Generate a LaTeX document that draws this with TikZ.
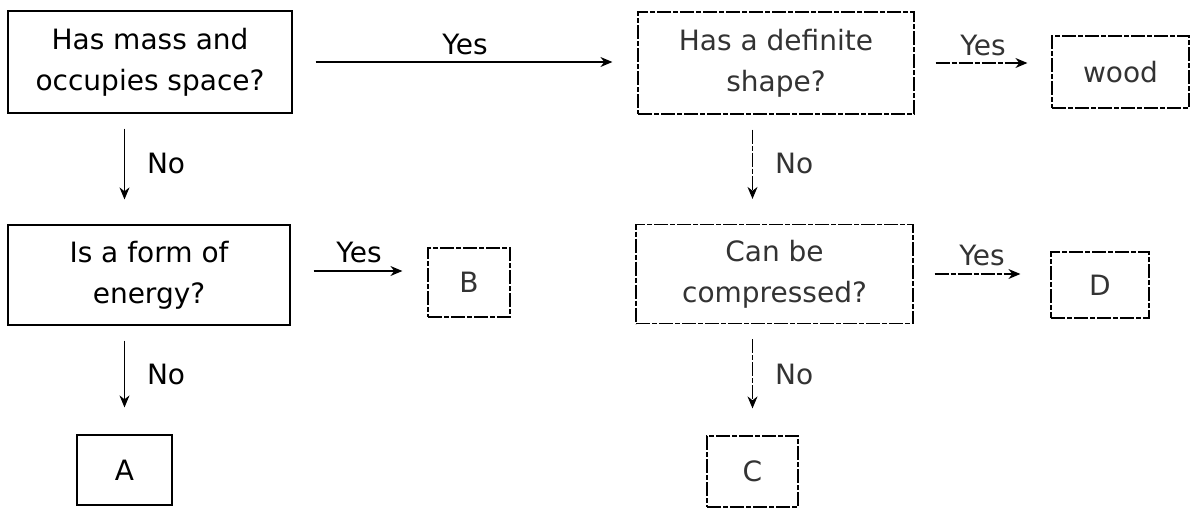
\documentclass[tikz,border=0pt]{standalone}
\usepackage{fontspec}
\setmainfont{DejaVu Sans}
\usetikzlibrary{arrows.meta,calc}
\begin{document}
\begin{tikzpicture}[x=1pt,y=-1pt,
  box/.style={draw=black, line width=1.2pt, inner sep=0pt, align=center, font=\fontsize{28}{41}\selectfont},
  rough/.style={dash pattern=on 14pt off 2pt on 5pt off 2pt},
  faded/.style={text=black!80},
  arr/.style={-{Stealth[length=12pt,width=10pt]}, line width=1.1pt},
  lbl/.style={font=\fontsize{28}{34}\selectfont, inner sep=0pt}]
\useasboundingbox (0,0) rectangle (1192,509);
% left column
\node[box, minimum width=284pt, minimum height=102pt] (m) at (150,62) {Has mass and\\occupies space?};
\node[box, minimum width=282pt, minimum height=100pt] (e) at (149,275) {Is a form of\\energy?};
\node[box, minimum width=95pt, minimum height=70pt] (A) at (124.5,470) {A};
\node[box, rough, faded, minimum width=82pt, minimum height=69pt] (B) at (469,282.5) {B};
% right column
\node[box, rough, faded, minimum width=276pt, minimum height=102pt] (d) at (776,63) {Has a definite\\shape?};
\node[box, rough, faded, minimum width=137pt, minimum height=72pt] (w) at (1120.5,72) {wood};
\node[box, rough, faded, minimum width=277pt, minimum height=99pt] (c) at (774.5,274) {Can be\\compressed?};
\node[box, rough, faded, minimum width=98pt, minimum height=66pt] (D) at (1100,285) {D};
\node[box, rough, faded, minimum width=91pt, minimum height=71pt] (C) at (752.5,471.5) {C};
% connectors
\draw[arr, shorten <=23pt, shorten >=25pt] (m) -- node[lbl, above=7pt] (y1) {Yes} (m -| d.west);
\draw[arr, rough, shorten <=21pt, shorten >=24pt] (d) -- node[lbl, faded, above=7pt] (y2) {Yes} (d -| w.west);
\draw[arr, shorten <=23pt, shorten >=25pt] (e.east |- 0,271) -- node[lbl, above=8pt] (y3) {Yes} (B.west |- 0,271);
\draw[arr, rough, shorten <=21pt, shorten >=30pt] (c) -- node[lbl, faded, above=8pt] (y4) {Yes} (c -| D.west);
\draw[arr, shorten <=15pt, shorten >=25pt] (m.south -| A) -- node[lbl, pos=0.45, right=22pt] (n1) {No} (e.north -| A);
\draw[arr, shorten <=15pt, shorten >=27pt] (e.south -| A) -- node[lbl, pos=0.45, right=22pt] (n2) {No} (A);
\draw[arr, rough, shorten <=15pt, shorten >=25pt] (d.south -| C) -- node[lbl, faded, pos=0.45, right=22pt] (n3) {No} (c.north -| C);
\draw[arr, rough, shorten <=15pt, shorten >=27pt] (c.south -| C) -- node[lbl, faded, pos=0.45, right=22pt] (n4) {No} (C);
\end{tikzpicture}
\end{document}
